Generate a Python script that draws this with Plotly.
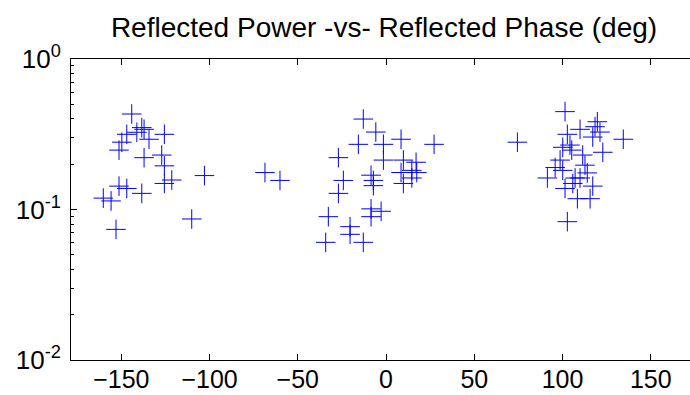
import plotly.graph_objects as go

phase_deg = [
    -144.1, -146.9, -141.2, -138.4, -137.1, -134.3, -125.6, -149.7, -151.3, -137.1, -127.1,
    -125.6, -121.4, -125.6, -102.9, -151.3, -146.9, -138.4, -160.2, -155.8, -153.0, -110.1,
    -68.6, -60.1, -12.9, -5.8, -15.7, -1.5, -1.5, 8.5, 27.2, -27.0, 9.8, 17.0, 8.5, 14.6,
    17.4, 14.6, 9.8, -24.2, -8.5, -7.2, -7.2, -27.0, -8.5, -2.8, -8.5, -32.7, -20.4, -20.4,
    -34.2, -12.9,
    74.4, 101.4, 134.4, 109.9, 119.7, 118.4, 121.2, 117.1, 102.7, 100.1, 105.2, 122.8, 98.6,
    111.4, 95.8, 100.1, 91.4, 112.7, 114.0, 109.9, 105.8, 117.1, 101.4, 108.4, 115.6, 102.7,
    107.1, 104.2,
]
reflected_power = [
    0.431, 0.316, 0.326, 0.350, 0.341, 0.293, 0.316, 0.280, 0.248, 0.221, 0.230,
    0.195, 0.157, 0.149, 0.168, 0.143, 0.138, 0.128, 0.119, 0.114, 0.0738, 0.0865,
    0.176, 0.156, 0.399, 0.327, 0.271, 0.271, 0.213, 0.293, 0.271, 0.221, 0.213, 0.206, 0.176, 0.182,
    0.176, 0.162, 0.149, 0.156, 0.169, 0.156, 0.144, 0.128, 0.101, 0.0973, 0.0896, 0.0896, 0.0769, 0.0684,
    0.0605, 0.0605,
    0.280, 0.447, 0.293, 0.341, 0.383, 0.355, 0.327, 0.303, 0.316, 0.259, 0.248, 0.240, 0.213,
    0.230, 0.190, 0.182, 0.162, 0.197, 0.175, 0.162, 0.149, 0.143, 0.138, 0.118, 0.118, 0.083,
    0.162, 0.268,
]

x_ticks = [-150, -100, -50, 0, 50, 100, 150]
y_tickvals = [0.01, 0.1, 1]
y_ticktext = ["10<sup>-2</sup>", "10<sup>-1</sup>", "10<sup>0</sup>"]
y_minor = [m * d for d in (0.01, 0.1) for m in range(2, 10)]

FONT = "Liberation Sans, Arial, sans-serif"

fig = go.Figure(
    go.Scatter(
        x=phase_deg,
        y=reflected_power,
        mode="markers",
        marker=dict(symbol="cross-thin", size=14, color="#0000ff",
                    line=dict(color="#0000ff", width=1)),
        showlegend=False,
    )
)

fig.update_layout(
    width=690,
    height=395,
    margin=dict(l=71, r=0, t=59, b=35),
    paper_bgcolor="white",
    plot_bgcolor="white",
    font=dict(family=FONT, color="black", size=26),
    title=dict(
        text="Reflected Power -vs- Reflected Phase (deg)",
        x=0.5057, xref="paper", xanchor="center",
        y=1 - 27 / 395, yref="container", yanchor="middle",
        font=dict(family=FONT, size=28, color="black"),
    ),
)

fig.update_xaxes(
    range=[-178.5, 172.2],
    tickmode="array",
    tickvals=x_ticks,
    ticks="inside",
    ticklen=6,
    tickcolor="black",
    showline=True,
    linecolor="black",
    linewidth=1,
    mirror="ticks",
    showgrid=False,
    zeroline=False,
    automargin=False,
    tickfont=dict(size=25),
    ticklabelstandoff=-3,
)

fig.update_yaxes(
    type="log",
    range=[-2, 0],
    tickmode="array",
    tickvals=y_tickvals,
    ticktext=y_ticktext,
    ticks="inside",
    ticklen=6,
    tickcolor="black",
    minor=dict(tickmode="array", tickvals=y_minor, ticks="inside", ticklen=3,
               tickcolor="black", showgrid=False),
    showline=True,
    linecolor="black",
    linewidth=1,
    mirror=False,
    showgrid=False,
    zeroline=False,
    automargin=False,
    tickfont=dict(size=26),
    ticklabelstandoff=4,
)

fig.write_html("out.html")
